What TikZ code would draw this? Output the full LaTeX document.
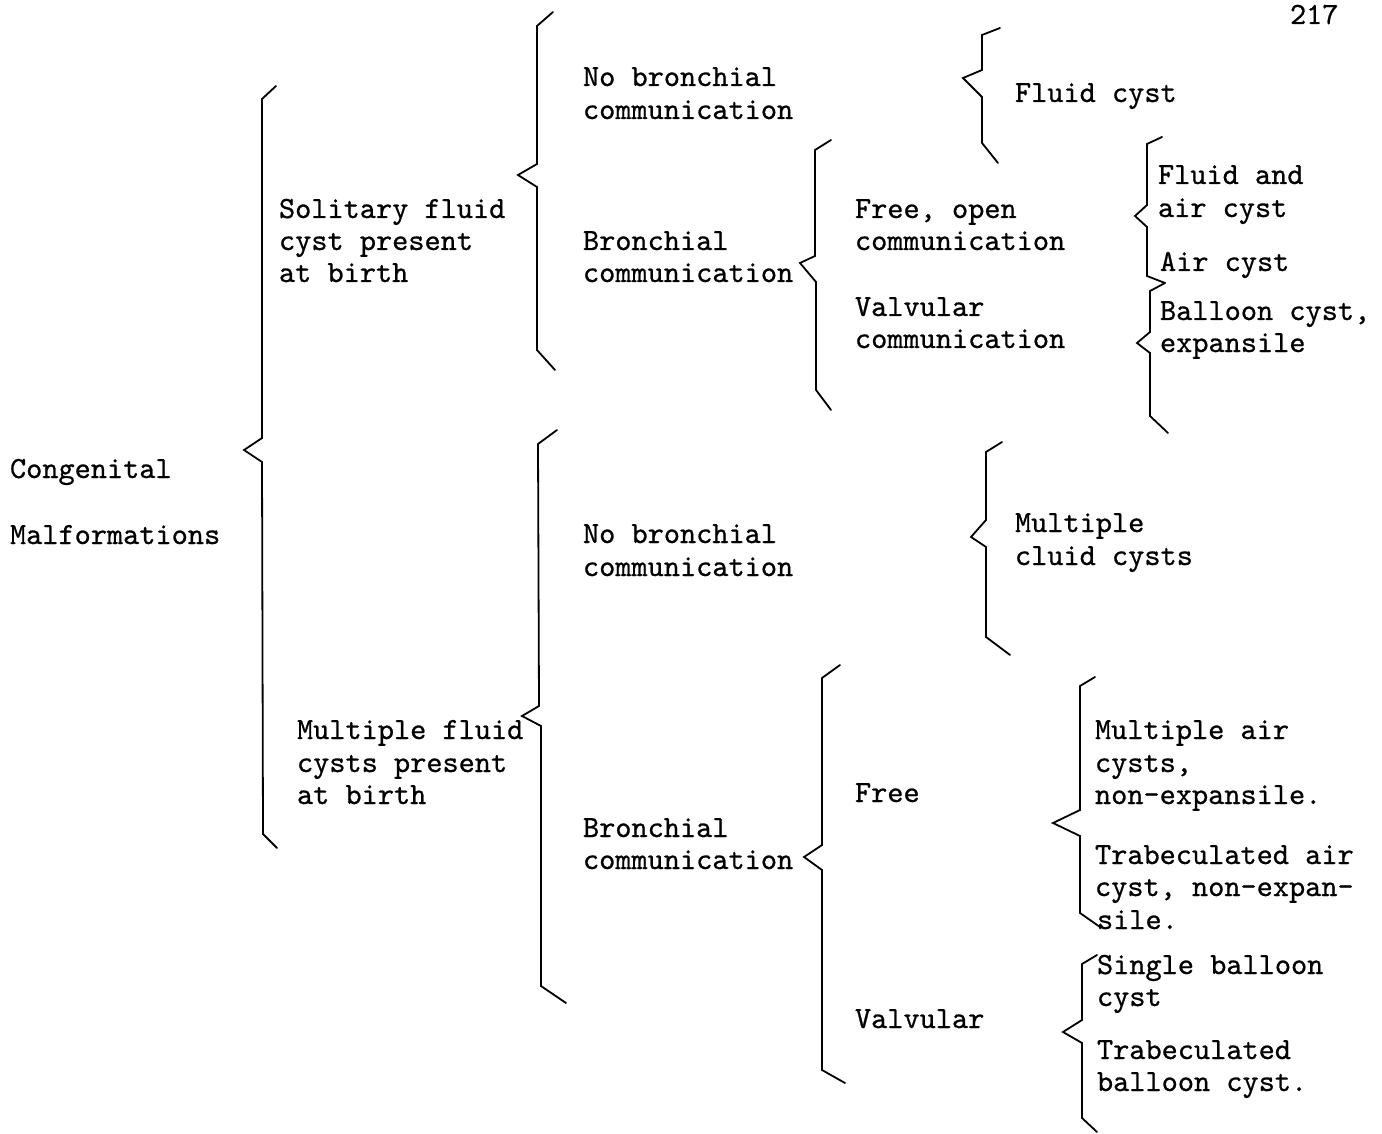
\documentclass[tikz,border=0pt]{standalone}
\usepackage{fontspec}
\newfontfamily\twfont{lmmono10-regular}[Extension=.otf, FakeBold=0.7]
\begin{document}
\begin{tikzpicture}[x=0.5pt,y=-0.5pt,
  txt/.style={anchor=base west, inner sep=0pt, outer sep=0pt, font=\fontsize{15.4}{16}\selectfont\twfont},
  brc/.style={line width=0.9pt, line cap=round, line join=miter}]
\fill[white] (0,0) rectangle (1382,1134);
\useasboundingbox (0,0) rectangle (1382,1134);

% page number
\node[txt] (pg) at (1290,24) {217};

% column 0
\node[txt] (cg1) at (10,478) {Congenital};
\node[txt] (cg2) at (10,544) {Malformations};

% column 1
\node[txt] (so1) at (279,218) {Solitary fluid};
\node[txt] (so2) at (279,250) {cyst present};
\node[txt] (so3) at (279,282) {at birth};
\node[txt] (mu1) at (297,739) {Multiple fluid};
\node[txt] (mu2) at (297,772) {cysts present};
\node[txt] (mu3) at (297,804) {at birth};

% column 2
\node[txt] (nb1) at (583,86) {No bronchial};
\node[txt] (nb2) at (583,119) {communication};
\node[txt] (bc1) at (583,250) {Bronchial};
\node[txt] (bc2) at (583,282) {communication};
\node[txt] (nc1) at (583,543) {No bronchial};
\node[txt] (nc2) at (583,576) {communication};
\node[txt] (bd1) at (583,837) {Bronchial};
\node[txt] (bd2) at (583,869) {communication};

% column 3
\node[txt] (fo1) at (855,218) {Free, open};
\node[txt] (fo2) at (855,250) {communication};
\node[txt] (vc1) at (855,316) {Valvular};
\node[txt] (vc2) at (855,348) {communication};
\node[txt] (fr)  at (855,802) {Free};
\node[txt] (va)  at (855,1028) {Valvular};

% column 4
\node[txt] (fc)  at (1015,102) {Fluid cyst};
\node[txt] (mc1) at (1015,532) {Multiple};
\node[txt] (mc2) at (1015,565) {cluid cysts};

% column 5
\node[txt] (fa1) at (1158,184) {Fluid and};
\node[txt] (fa2) at (1158,217) {air cyst};
\node[txt] (ac)  at (1160,271) {Air cyst};
\node[txt] (bl1) at (1160,320) {Balloon cyst,};
\node[txt] (bl2) at (1160,352) {expansile};
\node[txt] (ma1) at (1095,739) {Multiple air};
\node[txt] (ma2) at (1095,772) {cysts,};
\node[txt] (ma3) at (1095,804) {non-expansile.};
\node[txt] (ta1) at (1095,864) {Trabeculated air};
\node[txt] (ta2) at (1095,896) {cyst, non-expan-};
\node[txt] (ta3) at (1097,929) {sile.};
\node[txt] (sb1) at (1097,974) {Single balloon};
\node[txt] (sb2) at (1097,1006) {cyst};
\node[txt] (tb1) at (1097,1059) {Trabeculated};
\node[txt] (tb2) at (1097,1091) {balloon cyst.};

% braces
% B0: Congenital Malformations
\draw[brc] (276,86) -- (262,99) -- (262,438) -- (244,450) -- (262,462) -- (263,834) -- (277,848);
% B1: Solitary -> no bronchial / bronchial
\draw[brc] (553,12) -- (537,26) -- (537,164) -- (518,175) -- (537,187) -- (537,350) -- (555,370);
% B2: fluid cyst
\draw[brc] (1000,28) -- (982,35) -- (982,70) -- (963,78) -- (982,97) -- (982,143) -- (998,163);
% B3: bronchial -> free/valvular
\draw[brc] (831,140) -- (815,150) -- (815,256) -- (800,263) -- (816,282) -- (816,390) -- (831,410);
% B4a: free, open
\draw[brc] (1162,137) -- (1147,144) -- (1147,205) -- (1135,216) -- (1147,227) -- (1147,276) -- (1165,283);
% B4b: valvular
\draw[brc] (1165,283) -- (1150,291) -- (1150,332) -- (1137,343) -- (1150,353) -- (1150,416) -- (1168,433);
% B5: multiple fluid -> no bronchial / bronchial
\draw[brc] (557,430) -- (538,444) -- (539,706) -- (522,716) -- (541,726) -- (541,986) -- (566,1003);
% B6: multiple cluid cysts
\draw[brc] (1002,442) -- (986,452) -- (986,520) -- (971,537) -- (986,547) -- (986,637) -- (1010,655);
% B7: bronchial -> free / valvular
\draw[brc] (840,665) -- (822,678) -- (822,845) -- (804,857) -- (822,870) -- (822,1070) -- (845,1083);
% B8: free
\draw[brc] (1095,677) -- (1080,686) -- (1080,810) -- (1053,823) -- (1080,836) -- (1080,913) -- (1100,927);
% B9: valvular
\draw[brc] (1097,955) -- (1082,964) -- (1082,1020) -- (1063,1032) -- (1082,1043) -- (1082,1118) -- (1097,1132);
\end{tikzpicture}
\end{document}
